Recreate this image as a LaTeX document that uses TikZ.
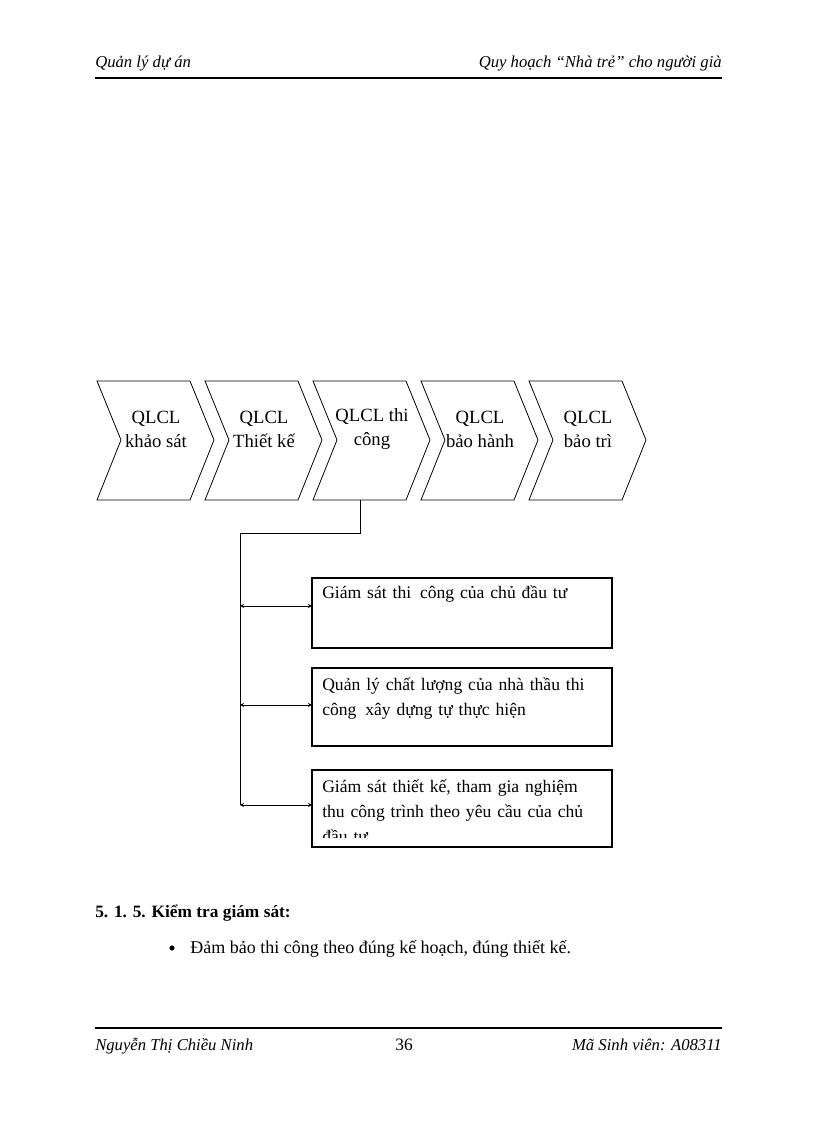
\documentclass[tikz,border=0pt]{standalone}
\usepackage{fontspec}
\setmainfont{Liberation Serif}
\usetikzlibrary{arrows.meta}
\begin{document}
\begin{tikzpicture}[x=0.75pt,y=-0.75pt,
  chev/.style={draw,line width=0.6pt},
  lbl/.style={align=center,font=\fontsize{14}{18}\selectfont,inner sep=0pt},
  box/.style={draw,line width=0.8pt},
  btxt/.style={anchor=north west,align=left,text width=272*0.75pt,font=\fontsize{13.2}{19}\selectfont,inner sep=0pt},
  arr/.style={{Stealth[length=3pt,width=3pt]}-{Stealth[length=3pt,width=3pt]},line width=0.5pt}]
\useasboundingbox (0,0) rectangle (816,1123);
% header/footer
\node[anchor=base west,font=\itshape\fontsize{12.5}{14}\selectfont,inner sep=0] (h1) at (95,68) {Quản lý dự án};
\node[anchor=base east,font=\itshape\fontsize{12.5}{14}\selectfont,inner sep=0] (h2) at (722,68) {Quy hoạch “Nhà trẻ” cho người già};
\draw[line width=1.5pt] (95,78) -- (722,78);
\draw[line width=1.5pt] (95,1028) -- (722,1028);
\node[anchor=base west,font=\itshape\fontsize{12.5}{14}\selectfont,inner sep=0] (f1) at (95,1050) {Nguyễn Thị Chiều Ninh};
\node[anchor=base,font=\fontsize{13}{14}\selectfont,inner sep=0] (f2) at (404,1050) {36};
\node[anchor=base east,font=\itshape\fontsize{12.5}{14}\selectfont,inner sep=0] (f3) at (722,1050) {Mã Sinh viên: A08311};
% chevrons
\foreach \x/\t [count=\i] in {97/{QLCL\\khảo sát},205/{QLCL\\Thiết kế},313/{QLCL thi\\công},421/{QLCL\\bảo hành},529/{QLCL\\bảo trì}}{
  \draw[chev] (\x,381) -- (\x+93,381) -- (\x+117,440) -- (\x+93,500) -- (\x,500) -- (\x+24,440) -- cycle;
  \node[lbl] (c\i) at (\x+59,429) {\t};
}
% boxes
\draw[box] (312,578) rectangle (612,648);
\draw[box] (312,668) rectangle (612,746);
\draw[box] (312,770) rectangle (612,847);
\coordinate (b1) at (312,606);
\coordinate (b2) at (312,705);
\coordinate (b3) at (312,805);
\node[btxt] (t1) at (322,585) {Giám sát thi \,công của chủ đầu tư};
\node[btxt] (t2) at (322,677) {Quản lý chất lượng của nhà thầu thi công \,xây dựng tự thực hiện};
\begin{scope}
\clip (312,770) rectangle (612,837);
\node[btxt] (t3) at (322,779) {Giám sát thiết kế, tham gia nghiệm thu công trình theo yêu cầu của chủ đầu tư};
\end{scope}
% connectors
\coordinate (j1) at (360,533);
\coordinate (j2) at (240,533);
\coordinate (j3) at (240,805);
\draw[line width=0.6pt] (360,500) -- (j1) -- (j2) -- (j3);
\draw[arr] (240,606) -- (b1);
\draw[arr] (240,705) -- (b2);
\draw[arr] (240,805) -- (b3);
% body text
\node[anchor=base west,font=\bfseries\fontsize{13}{14}\selectfont,inner sep=0] (hd) at (95,917) {5. 1. 5. Kiểm tra giám sát:};
\fill (172,948) circle (2.6);
\node[anchor=base west,font=\fontsize{13.5}{14}\selectfont,inner sep=0] (bl) at (190,953) {Đảm bảo thi công theo đúng kế hoạch, đúng thiết kế.};
\end{tikzpicture}
\end{document}
